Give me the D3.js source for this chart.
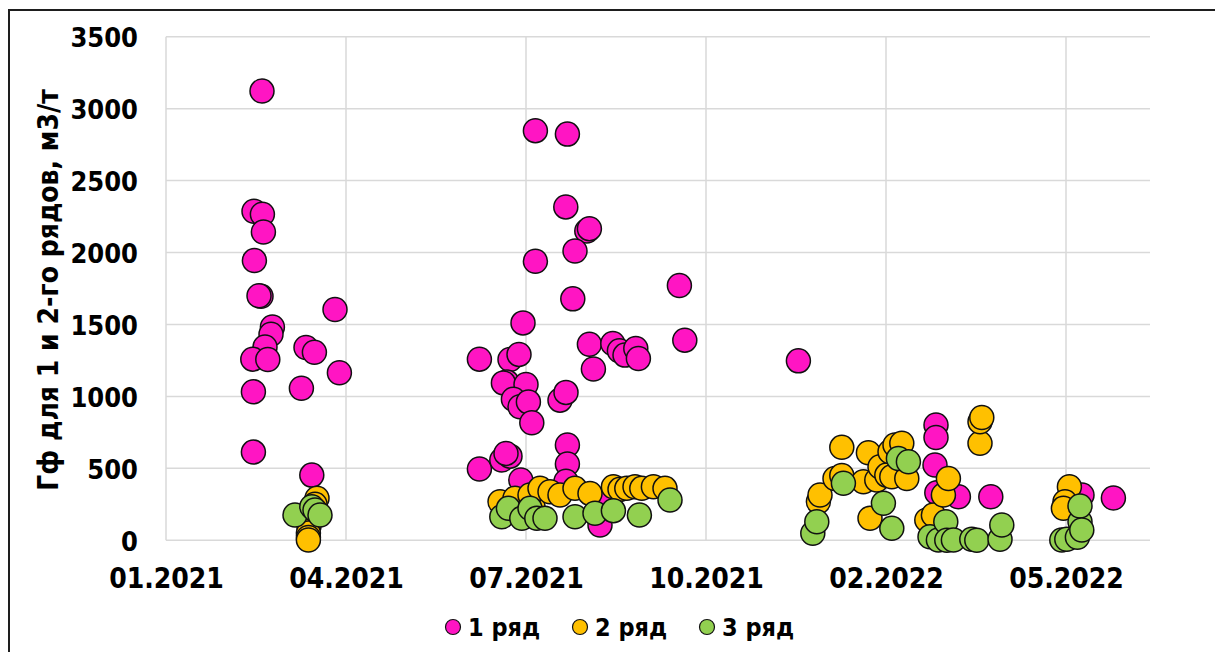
<!DOCTYPE html>
<html>
<head>
<meta charset="utf-8">
<script src="https://cdn.jsdelivr.net/npm/d3@7"></script>
<style>
  html, body { margin: 0; padding: 0; background: #fff; }
  svg { display: block; }
  .lbl { font-family: "DejaVu Sans Condensed", "Liberation Sans Narrow", "DejaVu Sans", sans-serif; font-stretch: condensed; font-weight: bold; fill: #000; }
</style>
</head>
<body>
<svg id="chart" width="1215" height="652"></svg>
<script>
// ---- data (x = days from the 01.2021 axis origin, y = Гф, м3/т) ----
const seriesNames = ["1 ряд", "2 ряд", "3 ряд"];
const seriesColors = ["#FF15C3", "#FFC000", "#92D050"];

const s1Day = [48, 44, 48.2, 48.7, 44.2, 47.5, 46.5, 84.5, 53.2, 52.5, 49.5, 43.4, 50.9, 70, 74.2, 86.7, 43.7, 67.7, 43.7, 72.9,
  184.7, 200.7, 199.9, 210.4, 211.7, 204.5, 184.7, 203.4, 256.7, 178.5, 259.4, 156.7, 211.7, 223.4, 226.7, 229.5, 234.9, 236.2, 213.7,
  172, 176.5, 170.4, 168.7, 180, 173.7, 177, 181.2, 182.9, 197, 200, 156.7, 167.9, 172, 170, 200.7, 200.7, 177.4, 217, 200, 219,
  316.2, 385, 385, 384.5, 385.4, 396.2, 412.4, 473.7, 458];
const s1Val = [3122, 2287, 2266, 2143, 1944, 1696, 1700, 1604, 1483, 1432, 1344, 1259, 1257, 1340, 1307, 1164, 1032, 1057, 613, 453,
  2847, 2823, 2317, 2150, 2166, 2011, 1939, 1678, 1771, 1511, 1391, 1259, 1363, 1368, 1317, 1287, 1333, 1264, 1190,
  1257, 1292, 1101, 1094, 1083, 981, 928, 962, 817, 974, 1028, 495, 558, 585, 604, 662, 530, 419, 106, 410, 280,
  1247, 801, 715, 523, 330, 303, 303, 294, 315];

const s2Day = [75.5, 74.5, 71.5, 71.2, 71.2, 71.2,
  167, 175.4, 174.5, 183.5, 182, 187, 192, 197, 204.5, 212, 223.7, 227, 230.4, 234.5, 237.9, 243.7, 249.5,
  326.2, 327, 334.5, 337.9, 337.9, 351.2, 348.7, 352, 355.4, 357, 360.4, 362, 362.9, 364.5, 367.9, 370.4, 380.4, 383.7, 388.7, 391.2, 407, 407, 407.9,
  451.7, 449.5, 448.7];
const s2Val = [292, 250, 100, 50, 20, 2,
  268, 257, 293, 233, 315, 361, 337, 315, 361, 326, 372, 354, 361, 372, 361, 372, 361,
  268, 315, 430, 450, 646, 608, 407, 153, 419, 511, 453, 615, 442, 662, 674, 430, 141, 176, 315, 430, 674, 824, 854,
  372, 268, 222];

const s3Day = [64.5, 72.9, 74.5, 77,
  167.9, 171.2, 177.9, 182, 185.4, 189.5, 204.5, 214.5, 223.7, 236.7, 252,
  323.4, 325.4, 338.7, 358.7, 362.9, 366.2, 371.2, 382, 386.2, 389.9, 390.4, 393.7, 402.9, 405.4, 417, 417.9,
  447.9, 450.4, 455.7, 457, 457, 457.9];
const s3Val = [176, 233, 210, 176,
  164, 222, 153, 222, 153, 153, 164, 188, 206, 176, 280,
  49, 129, 396, 257, 83, 569, 546, 25, 2, 129, 0, 2, 7, 0, 7, 106,
  2, 7, 21, 129, 238, 72];

const xTickDays = [0, 90, 180, 270, 360, 450];
const xTickLabels = ["01.2021", "04.2021", "07.2021", "10.2021", "02.2022", "05.2022"];
const yTicks = [0, 500, 1000, 1500, 2000, 2500, 3000, 3500];
const yTitle = "Гф для 1 и 2-го рядов, м3/т";

// ---- layout ----
const svg = d3.select("#chart");
const plot = { left: 166, right: 1150, top: 36.7, bottom: 540.3 };
const x = d3.scaleLinear().domain([0, 492]).range([plot.left, plot.right]);
const y = d3.scaleLinear().domain([0, 3500]).range([plot.bottom, plot.top]);

// outer frame (cut at right/bottom like the reference)
svg.append("rect").attr("x", 9).attr("y", 10).attr("width", 1240).attr("height", 680)
  .attr("fill", "none").attr("stroke", "#1e1e1e").attr("stroke-width", 2);

// gridlines
svg.append("g").selectAll("line").data(yTicks).join("line")
  .attr("x1", plot.left).attr("x2", plot.right)
  .attr("y1", d => y(d)).attr("y2", d => y(d))
  .attr("stroke", "#d9d9d9").attr("stroke-width", 1.5);
svg.append("g").selectAll("line").data(xTickDays).join("line")
  .attr("x1", d => x(d)).attr("x2", d => x(d))
  .attr("y1", plot.top).attr("y2", plot.bottom)
  .attr("stroke", "#d9d9d9").attr("stroke-width", 1.5);

// axes via d3 axis generators (labels only)
const yAxis = d3.axisLeft(y).tickValues(yTicks).tickSize(0).tickPadding(28).tickFormat(d3.format("d"));
const gy = svg.append("g").attr("transform", `translate(${plot.left},0)`).call(yAxis);
gy.select(".domain").remove();
gy.selectAll("text").attr("class", "lbl").style("font-size", "27px").attr("dy", "0.36em");

const xAxis = d3.axisBottom(x).tickValues(xTickDays).tickSize(0).tickPadding(0)
  .tickFormat((d, i) => xTickLabels[i]);
const gx = svg.append("g").attr("transform", `translate(0,${plot.bottom})`).call(xAxis);
gx.select(".domain").remove();
gx.selectAll("text").attr("class", "lbl").style("font-size", "28px").attr("dy", null).attr("y", 48);

// y title
svg.append("text").attr("class", "lbl").style("font-size", "28px")
  .attr("text-anchor", "middle")
  .attr("transform", "translate(58,290) rotate(-90)")
  .text(yTitle);

// points
const allSeries = [
  { day: s1Day, val: s1Val },
  { day: s2Day, val: s2Val },
  { day: s3Day, val: s3Val }
];
allSeries.forEach((s, si) => {
  svg.append("g").selectAll("circle").data(s.day.map((d, i) => [d, s.val[i]])).join("circle")
    .attr("cx", d => x(d[0])).attr("cy", d => y(d[1])).attr("r", 12)
    .attr("fill", seriesColors[si]).attr("stroke", "#111").attr("stroke-width", 1.5);
});

// legend
const legX = [453, 580, 707];
const lg = svg.append("g");
seriesNames.forEach((n, i) => {
  lg.append("circle").attr("cx", legX[i]).attr("cy", 627).attr("r", 7.5)
    .attr("fill", seriesColors[i]).attr("stroke", "#111").attr("stroke-width", 1.2);
  lg.append("text").attr("class", "lbl").style("font-size", "25px")
    .attr("x", legX[i] + 15).attr("y", 636).text(n);
});
</script>
</body>
</html>
